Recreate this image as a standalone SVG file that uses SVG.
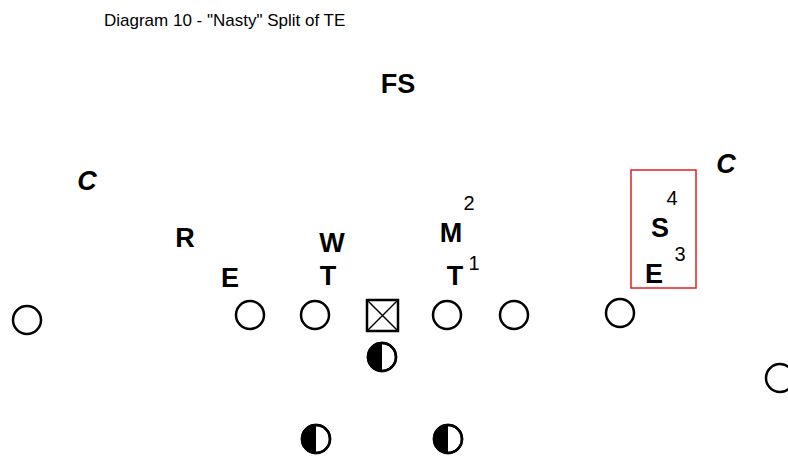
<svg xmlns="http://www.w3.org/2000/svg" width="788" height="460" viewBox="0 0 788 460">
  <style>
    .title { font-family: "Liberation Sans", "DejaVu Sans", sans-serif; font-size: 17px; fill: #000; }
    .lbl { font-family: "Liberation Sans", "DejaVu Sans", sans-serif; font-size: 27px; font-weight: bold; fill: #000; text-anchor: middle; }
    .ital { font-style: italic; }
    .num { font-family: "Liberation Sans", "DejaVu Sans", sans-serif; font-size: 20px; fill: #000; text-anchor: middle; }
    .player { fill: #fff; stroke: #000; stroke-width: 2.5; }
    .half { fill: #000; }
    .ball { fill: #fff; stroke: #000; stroke-width: 2.5; }
    .cross { stroke: #000; stroke-width: 1.5; }
    .hilite { fill: none; stroke: #e02020; stroke-width: 1.5; }
  </style>
  <defs>
    <circle id="o" r="14"/>
    <g id="back">
      <circle r="14" class="player"/>
      <path d="M0,-14 A14,14 0 0 0 0,14 Z" class="half"/>
      <circle r="14" fill="none" stroke="#000" stroke-width="2.5"/>
    </g>
  </defs>

  <rect width="788" height="460" fill="#fff"/>

  <text class="title" x="104" y="26">Diagram 10 - "Nasty" Split of TE</text>

  <!-- defense -->
  <g id="defense">
    <g id="fs"><text class="lbl" x="398" y="93">FS</text></g>
    <g id="c-left"><text class="lbl ital" x="87" y="190">C</text></g>
    <g id="c-right"><text class="lbl ital" x="726" y="173">C</text></g>
    <g id="r"><text class="lbl" x="185" y="247">R</text></g>
    <g id="w"><text class="lbl" x="332" y="252">W</text></g>
    <g id="m"><text class="lbl" x="451" y="242">M</text><text class="num" x="469" y="210">2</text></g>
    <g id="e-left"><text class="lbl" x="230" y="287">E</text></g>
    <g id="t-left"><text class="lbl" x="328" y="285">T</text></g>
    <g id="t-right"><text class="lbl" x="455" y="285">T</text><text class="num" x="474" y="270">1</text></g>
    <g id="nasty">
      <rect class="hilite" x="631" y="170" width="65" height="118"/>
      <text class="lbl" x="660" y="237">S</text>
      <text class="num" x="672" y="205">4</text>
      <text class="lbl" x="654" y="283">E</text>
      <text class="num" x="680" y="261">3</text>
    </g>
  </g>

  <!-- offense -->
  <g id="offense">
    <g id="wr-left"><use href="#o" class="player" x="27" y="320"/></g>
    <g id="lt"><use href="#o" class="player" x="250" y="315"/></g>
    <g id="lg"><use href="#o" class="player" x="315" y="315"/></g>
    <g id="center">
      <rect class="ball" x="367" y="300" width="31" height="31"/>
      <line class="cross" x1="367" y1="300" x2="398" y2="331"/>
      <line class="cross" x1="398" y1="300" x2="367" y2="331"/>
    </g>
    <g id="rg"><use href="#o" class="player" x="447" y="315"/></g>
    <g id="rt"><use href="#o" class="player" x="514" y="315"/></g>
    <g id="te"><use href="#o" class="player" x="620" y="313"/></g>
    <g id="wr-right"><use href="#o" class="player" x="780" y="378"/></g>
    <g id="qb"><use href="#back" x="382" y="357"/></g>
    <g id="hb-left"><use href="#back" x="316" y="439"/></g>
    <g id="hb-right"><use href="#back" x="448" y="439"/></g>
  </g>

  <g id="connectors"></g>
</svg>
